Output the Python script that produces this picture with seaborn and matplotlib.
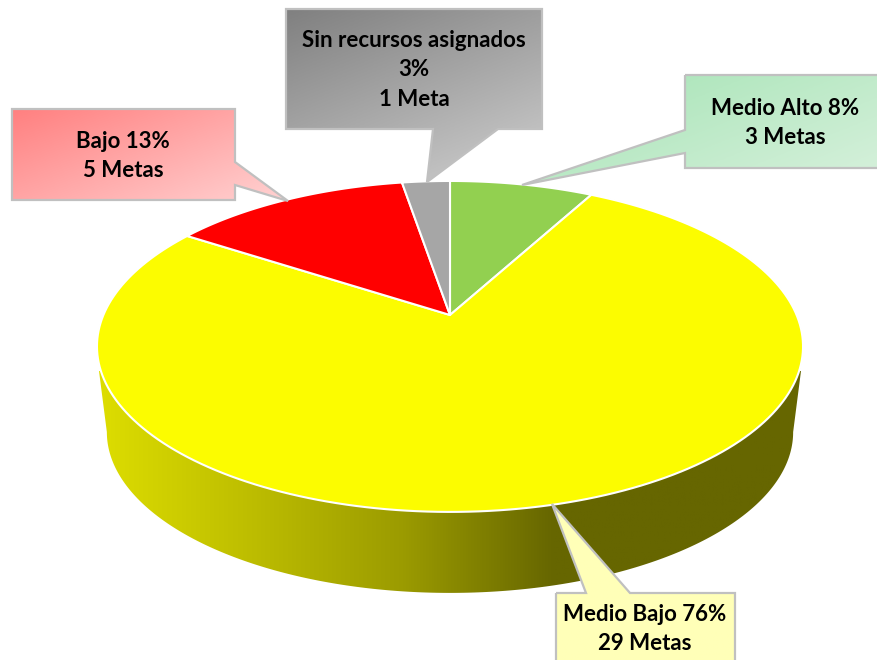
import numpy as np
import seaborn as sns
import matplotlib.pyplot as plt
from matplotlib.patches import Polygon

# Data, clockwise from 12 o'clock
categorias = ['Medio Alto', 'Medio Bajo', 'Bajo', 'Sin recursos asignados']
metas = [3, 29, 5, 1]
colores = ['#92D050', '#FCFC00', '#FF0000', '#A6A6A6']

sns.set_theme(style='white')
plt.rcParams['font.family'] = ['Lato', 'DejaVu Sans']

total = sum(metas)
porcentajes = [round(100 * m / total) for m in metas]
etiquetas = []
for cat, p, m in zip(categorias, porcentajes, metas):
    unidad = 'Meta' if m == 1 else 'Metas'
    sep = '\n' if len(cat) > 12 else ' '
    etiquetas.append(f'{cat}{sep}{p}%\n{m} {unidad}')


# Perspective view of the unit circle, in image pixels
def proy(t, escala=1.0, bajada=0.0):
    u, v = np.sin(t), np.cos(t)
    den = 1 + 0.19 * v
    return 450 + escala * 346.6 * u / den, 315 + bajada - escala * 159.5 * v / den


def degradado(ax, verts, caja, cmap):
    x0, y0, x1, y1 = caja
    xx, yy = np.meshgrid(np.linspace(0, 1, 120), np.linspace(0, 1, 120))
    dx, dy = xx * (x1 - x0), yy * (y1 - y0)
    g = (0.4 * dx + dy) / (0.4 * (x1 - x0) + (y1 - y0))
    im = ax.imshow(g, extent=(x0, x1, y1, y0), cmap=cmap, vmin=0, vmax=1,
                   aspect='auto', zorder=5, interpolation='bilinear')
    borde = Polygon(verts, closed=True, fill=False, ec='#C0C0C0', lw=1.6, zorder=6,
                    joinstyle='miter', transform=ax.transData)
    ax.add_patch(borde)
    im.set_clip_path(borde)


fig = plt.figure(figsize=(8.78, 6.6), dpi=100)
ax = fig.add_axes([0, 0, 1, 1])

# Side wall of the disc
t_lado = np.arccos(-0.19)
t = np.linspace(t_lado, 2 * np.pi - t_lado, 300)
bx, by = proy(t, 0.972, 86.5)
pared = np.vstack([[801, 371], np.column_stack([bx, by]), [99, 371]])
cmap_pared = sns.blend_palette(['#DDDD00', '#BDBD00', '#9B9B00', '#666600'], as_cmap=True)
im = ax.imshow(np.linspace(95, 805, 400)[None, :], extent=(95, 805, 600, 340),
               cmap=cmap_pared, vmin=100, vmax=555, aspect='auto', zorder=1)
clip = Polygon(pared, closed=True, fc='none', ec='none', transform=ax.transData)
ax.add_patch(clip)
im.set_clip_path(clip)

# Slices on top
fracs = np.cumsum([0] + metas) / total * 2 * np.pi
for a, b, col in zip(fracs[:-1], fracs[1:], colores):
    ang = np.linspace(a, b, 200)
    x, y = proy(ang)
    ax.fill(np.r_[450, x], np.r_[315, y], fc=col, ec='white', lw=1.5, zorder=2,
            joinstyle='round')

# Callouts: outline with pointer, gradient colours, text centre
callouts = [
    ([(685, 75), (890, 75), (890, 168), (685, 168), (685, 153), (522, 185), (685, 130)],
     ['#A3E3B3', '#D8F1DD'], (785, 123)),
    ([(556, 593), (586, 593), (552, 504), (630, 593), (735, 593), (735, 675), (556, 675)],
     ['#FFFFB8', '#FFFFB8'], (645, 629)),
    ([(12, 109), (235, 109), (235, 162), (288, 201), (235, 185), (235, 200), (12, 200)],
     ['#FF8080', '#FFD2D2'], (123, 156)),
    ([(286, 9), (542, 9), (542, 129), (498, 129), (427, 182), (433, 129), (286, 129)],
     ['#808080', '#CFCFCF'], (414, 70)),
]
for (verts, cols, pos), texto in zip(callouts, etiquetas):
    xs, ys = zip(*verts)
    cmap = sns.blend_palette(cols, as_cmap=True)
    degradado(ax, verts, (min(xs), min(ys), max(xs), max(ys)), cmap)
    ax.text(pos[0], pos[1], texto, ha='center', va='center', fontsize=16,
            fontweight='bold', color='black', linespacing=1.52, zorder=7)

ax.set_xlim(0, 878)
ax.set_ylim(660, 0)
ax.axis('off')
fig.savefig('out.png', dpi=100)
